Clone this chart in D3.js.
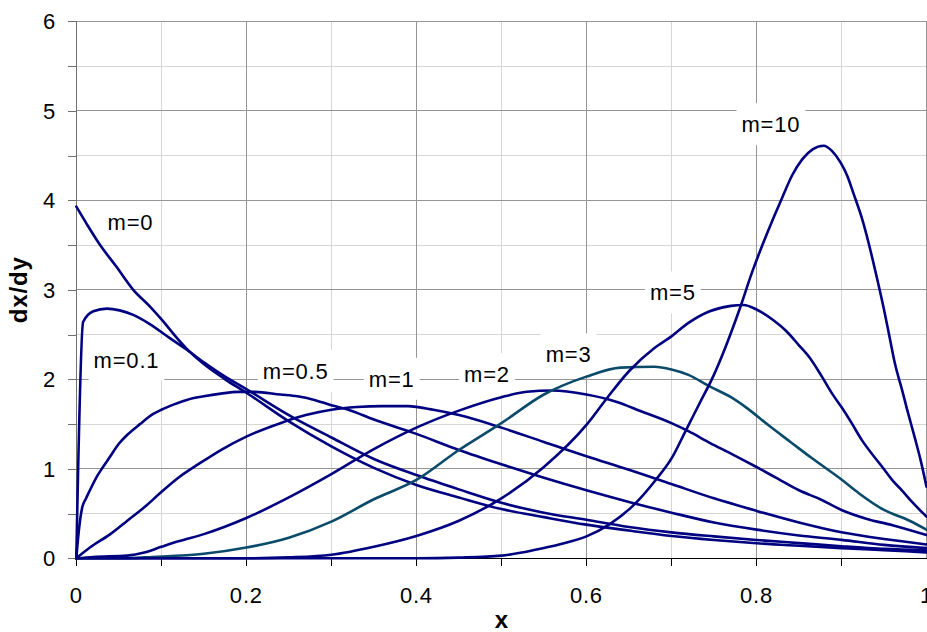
<!DOCTYPE html>
<html><head><meta charset="utf-8">
<script src="https://cdn.jsdelivr.net/npm/d3@7"></script>
<style>
body{margin:0;background:#fff}
svg{display:block}
text{font-family:"Liberation Sans",Arial,sans-serif;fill:#000}
</style>
</head><body>
<svg id="chart" width="927" height="632"></svg>
<script>
// ---------------- data ----------------
const m0X  = [0,0.012,0.028,0.047,0.067,0.087,0.102,0.115,0.13,0.15,0.175,0.2,0.25,0.3,0.35,0.4,0.45,0.5,0.55,0.6,0.65,0.7,0.75,0.8,0.85,0.9,0.95,1.0];
const m0Y  = [3.93,3.74,3.50,3.26,3.00,2.81,2.65,2.50,2.34,2.17,2.00,1.85,1.53,1.25,1.01,0.82,0.68,0.55,0.46,0.376,0.31,0.25,0.205,0.168,0.14,0.114,0.09,0.066];

const m01X = [0,0.008,0.02,0.036,0.051,0.067,0.086,0.11,0.13,0.15,0.175,0.2,0.25,0.3,0.35,0.4,0.45,0.5,0.55,0.6,0.65,0.7,0.75,0.8,0.85,0.9,0.95,1.0];
const m01Y = [0,2.64,2.76,2.79,2.77,2.72,2.62,2.46,2.33,2.19,2.03,1.89,1.60,1.35,1.11,0.93,0.77,0.62,0.51,0.43,0.35,0.29,0.245,0.205,0.17,0.135,0.105,0.088];

const m05X = [0,0.003,0.007,0.011,0.016,0.024,0.03,0.04,0.05,0.06,0.075,0.09,0.1,0.115,0.13,0.15,0.17,0.19,0.21,0.24,0.26,0.28,0.3,0.32,0.35,0.4,0.45,0.5,0.55,0.6,0.65,0.7,0.75,0.8,0.85,0.9,0.95,1.0];
const m05Y = [0,0.31,0.57,0.66,0.76,0.91,1.0,1.14,1.28,1.38,1.50,1.61,1.66,1.72,1.77,1.81,1.84,1.86,1.86,1.83,1.81,1.77,1.71,1.66,1.55,1.39,1.21,1.05,0.90,0.76,0.63,0.51,0.40,0.32,0.255,0.206,0.15,0.114];

const m1X  = [0,0.016,0.04,0.06,0.08,0.1,0.12,0.145,0.17,0.2,0.24,0.27,0.3,0.33,0.36,0.39,0.42,0.45,0.5,0.55,0.6,0.65,0.7,0.75,0.8,0.85,0.9,0.95,1.0];
const m1Y  = [0,0.12,0.27,0.42,0.57,0.74,0.90,1.06,1.21,1.36,1.51,1.60,1.66,1.69,1.70,1.70,1.66,1.60,1.46,1.30,1.14,0.99,0.83,0.67,0.53,0.40,0.29,0.215,0.155];

const m2X  = [0,0.02,0.06,0.08,0.1,0.12,0.15,0.2,0.25,0.3,0.35,0.4,0.45,0.5,0.53,0.56,0.6,0.635,0.665,0.7,0.72,0.745,0.77,0.8,0.825,0.85,0.875,0.9,0.93,0.96,1.0];
const m2Y  = [0,0.015,0.03,0.064,0.128,0.19,0.27,0.45,0.68,0.94,1.22,1.46,1.65,1.80,1.86,1.875,1.83,1.75,1.64,1.51,1.42,1.29,1.17,1.02,0.89,0.76,0.66,0.54,0.44,0.37,0.26];

const m3X  = [0,0.05,0.09,0.15,0.2,0.25,0.3,0.35,0.4,0.45,0.5,0.55,0.6,0.64,0.68,0.7,0.72,0.745,0.77,0.79,0.815,0.84,0.865,0.9,0.92,0.95,0.98,1.0];
const m3Y  = [0,0.0,0.015,0.05,0.12,0.23,0.41,0.66,0.875,1.21,1.51,1.83,2.03,2.13,2.14,2.11,2.05,1.92,1.80,1.67,1.48,1.30,1.12,0.88,0.73,0.54,0.42,0.32];

const m5X  = [0,0.2,0.25,0.3,0.35,0.4,0.45,0.5,0.55,0.6,0.625,0.65,0.68,0.7,0.72,0.745,0.77,0.785,0.8,0.82,0.835,0.85,0.862,0.877,0.889,0.9,0.912,0.924,0.938,0.948,0.96,0.971,0.983,1.0];
const m5Y  = [0,0.0,0.01,0.04,0.13,0.25,0.42,0.67,1.02,1.49,1.80,2.09,2.35,2.48,2.63,2.76,2.82,2.83,2.78,2.66,2.54,2.38,2.25,2.03,1.84,1.69,1.51,1.32,1.14,1.02,0.87,0.76,0.63,0.465];

const m10X = [0,0.4,0.45,0.5,0.54,0.57,0.6,0.627,0.654,0.681,0.701,0.717,0.733,0.749,0.764,0.78,0.795,0.807,0.819,0.829,0.842,0.854,0.866,0.879,0.889,0.899,0.907,0.914,0.924,0.932,0.942,0.95,0.957,0.963,0.971,0.977,0.987,0.993,1.0];
const m10Y = [0,0,0.008,0.03,0.095,0.16,0.245,0.38,0.58,0.87,1.13,1.43,1.73,2.03,2.37,2.78,3.20,3.50,3.78,4.00,4.28,4.46,4.57,4.61,4.55,4.42,4.27,4.08,3.80,3.52,3.12,2.78,2.45,2.17,1.89,1.67,1.32,1.10,0.80];

const seriesNames = ["m=0","m=0.1","m=0.5","m=1","m=2","m=3","m=5","m=10"];
const seriesXs = [m0X,m01X,m05X,m1X,m2X,m3X,m5X,m10X];
const seriesYs = [m0Y,m01Y,m05Y,m1Y,m2Y,m3Y,m5Y,m10Y];

const xTickValues = [0,0.2,0.4,0.6,0.8,1];
const xTickLabels = ["0","0.2","0.4","0.6","0.8","1"];
const yTickValues = [0,1,2,3,4,5,6];
const yTickLabels = ["0","1","2","3","4","5","6"];
const xTitle = "x";
const yTitle = "dx/dy";

// label anchor points (data units) for the in-plot annotations
const labelX = [0.0637,0.059,0.258,0.371,0.483,0.579,0.7016,0.817];
const labelY = [3.752,2.221,2.095,2.006,2.057,2.28,2.97,4.85];

// ---------------- drawing ----------------
const svg = d3.select("#chart");
const x = d3.scaleLinear().domain([0,1]).range([76.3,926.5]);
const y = d3.scaleLinear().domain([0,6]).range([558.3,21.3]);
const navy = "#000080", teal = "#0a4a6a";

// gridlines: minor then major
const gMinor = svg.append("g").attr("shape-rendering","crispEdges").attr("stroke","#d6d6d6").attr("stroke-width",1);
d3.range(1,10,2).map(i=>i/10).forEach(v=>{
  gMinor.append("line").attr("x1",x(v)).attr("x2",x(v)).attr("y1",y(0)).attr("y2",y(6));
});
d3.range(0.5,6,1).forEach(v=>{
  gMinor.append("line").attr("x1",x(0)).attr("x2",x(1)).attr("y1",y(v)).attr("y2",y(v));
});
const gMajor = svg.append("g").attr("shape-rendering","crispEdges").attr("stroke","#959595").attr("stroke-width",1);
xTickValues.slice(1).forEach(v=>{
  gMajor.append("line").attr("x1",x(v)).attr("x2",x(v)).attr("y1",y(0)).attr("y2",y(6));
});
yTickValues.slice(1).forEach(v=>{
  gMajor.append("line").attr("x1",x(0)).attr("x2",x(1)).attr("y1",y(v)).attr("y2",y(v));
});

// label boxes (white) - drawn before curves
const labelFont = 22;
const gLab = svg.append("g");
seriesNames.forEach((name,i)=>{
  const cx = x(labelX[i]), cy = y(labelY[i]);
  const t = gLab.append("text").attr("x",cx).attr("y",cy+8)
    .attr("text-anchor","middle").attr("font-size",labelFont).attr("letter-spacing","0.8px")
    .text(name);
  const w = t.node().getComputedTextLength();
  gLab.insert("rect","text").attr("x",cx-w/2-5).attr("y",cy-21).attr("width",w+10).attr("height",42).attr("fill","#fff");
});

// axes
const yAxis = d3.axisLeft(y).tickValues(d3.range(0,6.01,0.5)).tickSize(8).tickFormat("");
const gy = svg.append("g").attr("transform",`translate(${x(0)},0)`).attr("shape-rendering","crispEdges").call(yAxis);
gy.selectAll("path,line").attr("stroke","#707070");
gy.select(".domain").attr("d",`M0,${y(6)}V${y(0)+8}`);

const xAxis = d3.axisBottom(x).tickValues(d3.range(0,1.001,0.1)).tickSize(8).tickFormat("");
const gx = svg.append("g").attr("transform",`translate(0,${y(0)})`).attr("shape-rendering","crispEdges").call(xAxis);
gx.selectAll("path,line").attr("stroke","#000");
gx.select(".domain").attr("d",`M${x(0)},0H${x(1)}`);

// tick labels
const gT = svg.append("g").attr("font-size",22).attr("letter-spacing","0.8px");
yTickValues.forEach((v,i)=>{
  gT.append("text").attr("x",56).attr("y",y(v)+8).attr("text-anchor","end").text(yTickLabels[i]);
});
xTickValues.forEach((v,i)=>{
  gT.append("text").attr("x",x(v)).attr("y",y(0)+44.5).attr("text-anchor","middle").text(xTickLabels[i]);
});

// axis titles
svg.append("text").attr("x",x(0.5)).attr("y",628).attr("text-anchor","middle")
  .attr("font-size",24).attr("font-weight","bold").text(xTitle);
svg.append("text").attr("transform",`translate(27,${(y(0)+y(6))/2}) rotate(-90)`).attr("text-anchor","middle")
  .attr("font-size",24).attr("font-weight","bold").attr("letter-spacing","0.8px").text(yTitle);

// curves
const line = d3.line().x(d=>x(d[0])).y(d=>y(d[1])).curve(d3.curveMonotoneX);
seriesNames.forEach((name,i)=>{
  const pts = seriesXs[i].map((v,j)=>[v,seriesYs[i][j]]);
  svg.append("path").datum(pts).attr("d",line).attr("fill","none")
    .attr("stroke", name==="m=3" ? teal : navy).attr("stroke-width",2.6)
    .attr("stroke-linejoin","round").attr("stroke-linecap","round");
});
</script>
</body></html>
